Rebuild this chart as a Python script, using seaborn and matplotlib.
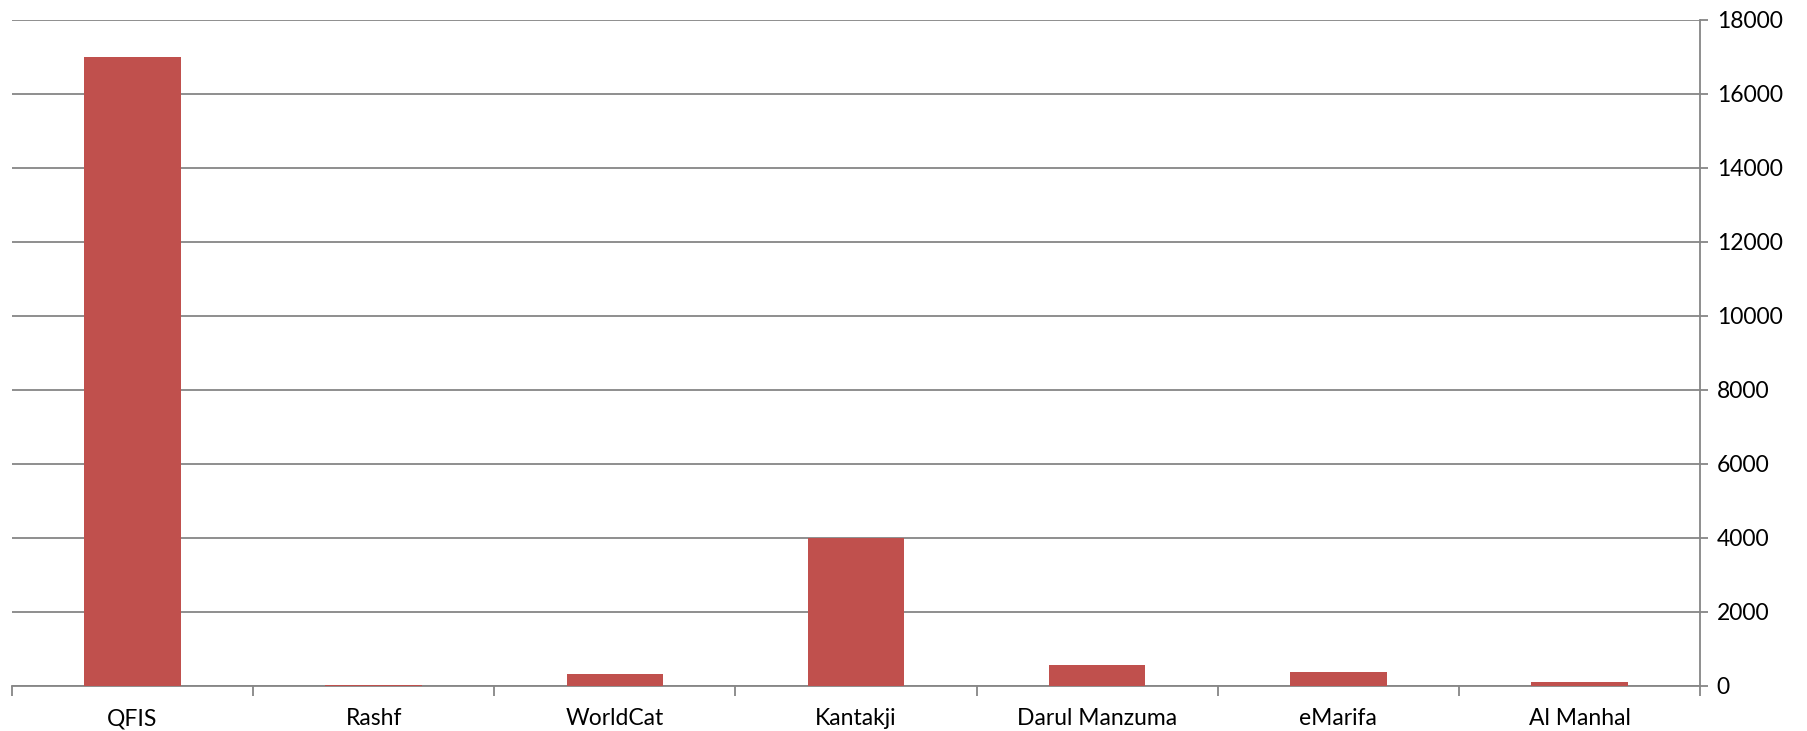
import numpy as np
import pandas as pd
import matplotlib
matplotlib.use("Agg")
import matplotlib.pyplot as plt
import seaborn as sns

# values
categories = ["QFIS", "Rashf", "WorldCat", "Kantakji", "Darul Manzuma", "eMarifa", "Al Manhal"]
counts = [17000, 30, 330, 4000, 560, 390, 100]
y_ticks = [0, 2000, 4000, 6000, 8000, 10000, 12000, 14000, 16000, 18000]

df = pd.DataFrame({"source": categories, "count": counts})

sns.set_theme(style="white")
plt.rcParams["font.family"] = ["Lato", "DejaVu Sans"]

grey = "#868686"
fig = plt.figure(figsize=(18.08, 7.31), dpi=100)
ax = fig.add_axes([0.0066, 0.0616, 0.9337, 0.9114])

sns.barplot(data=df, x="source", y="count", color="#C0504D", width=0.4,
            saturation=1, linewidth=0, ax=ax, zorder=3)

ax.set_xlim(-0.5, len(categories) - 0.5)
ax.set_ylim(0, 18000)
ax.set_yticks(y_ticks)
ax.yaxis.tick_right()
ax.yaxis.grid(True, color=grey, lw=1.3, zorder=0)
ax.set_axisbelow(True)

for s in ["left", "top"]:
    ax.spines[s].set_visible(False)
for s in ["right", "bottom"]:
    ax.spines[s].set_color(grey)
    ax.spines[s].set_linewidth(1.3)

# category boundary tick marks
ax.set_xticks(np.arange(-0.5, len(categories)), minor=True)
ax.tick_params(axis="x", which="minor", length=7, width=1.3, color=grey, direction="out", bottom=True)
ax.tick_params(axis="x", which="major", length=0, pad=16, labelsize=16.5, labelcolor="black")
ax.tick_params(axis="y", which="major", length=6, width=1.3, color=grey, direction="out",
               right=True, left=False, pad=6, labelsize=16.5, labelcolor="black")

ax.set_xlabel("")
ax.set_ylabel("")

fig.savefig("out.png", dpi=100, facecolor="white")
